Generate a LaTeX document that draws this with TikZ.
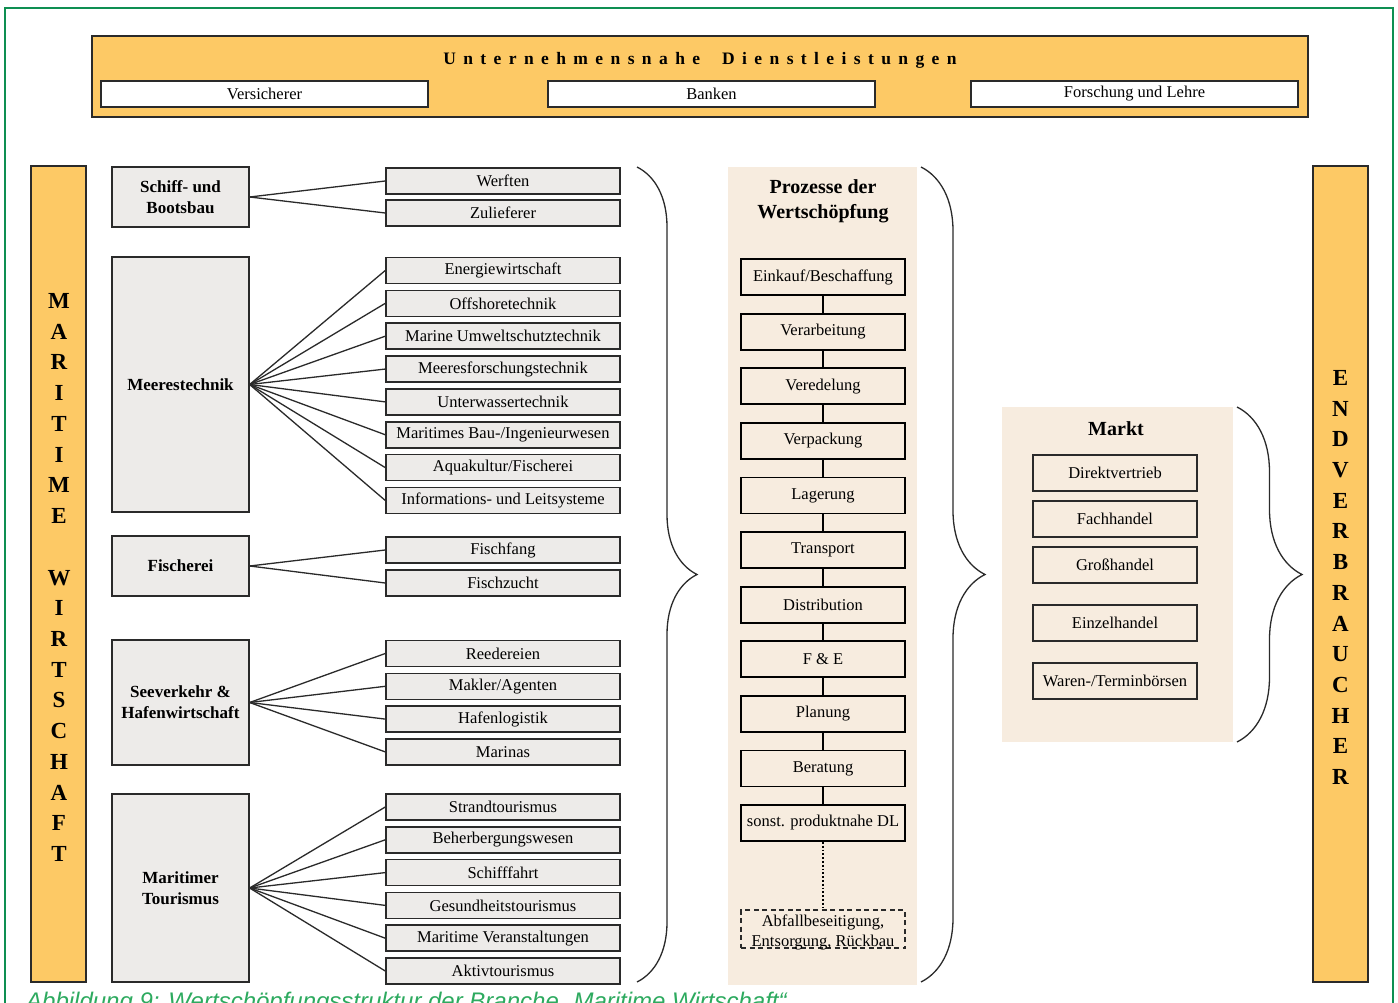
\documentclass[tikz,border=0pt]{standalone}
\usepackage{fontspec}
\setmainfont{Liberation Serif}
\newfontfamily\capfont{Liberation Sans}
\usetikzlibrary{decorations.pathreplacing}
\definecolor{orangefill}{HTML}{FDC965}
\definecolor{beige}{HTML}{F7ECDF}
\definecolor{grayfill}{HTML}{EDEBE9}
\definecolor{framegreen}{HTML}{0E8F52}
\definecolor{capgreen}{HTML}{2DAA5F}
\definecolor{edge}{HTML}{2A2A2A}
\newcommand{\ls}{\hspace{7.4pt}}
\begin{document}
\begin{tikzpicture}[x=1pt,y=-1pt,
  txt/.style={font=\fontsize{16.5}{20}\selectfont},
  orangebar/.style={draw=edge,fill=orangefill,line width=1.5pt},
  whitebox/.style={draw=edge,fill=white,line width=1.3pt,minimum width=327pt,minimum height=26pt,inner sep=0pt,txt},
  catbox/.style={draw=edge,fill=grayfill,line width=1.3pt,minimum width=137pt,inner sep=0pt,align=center,font=\bfseries\fontsize{17}{21}\selectfont},
  subbox/.style={draw=edge,fill=grayfill,line width=1.5pt,minimum width=234pt,minimum height=26pt,inner sep=0pt,txt},
  procbox/.style={draw=black,line width=1.8pt,minimum width=164pt,minimum height=36pt,inner sep=0pt,txt},
  mktbox/.style={draw=edge,line width=1.5pt,minimum width=164pt,minimum height=36pt,inner sep=0pt,txt},
  link/.style={line width=1.3pt,draw=edge},
  bracestyle/.style={decorate,decoration={brace,amplitude=#1},line width=1.3pt,draw=edge},
  bigletters/.style={inner sep=0pt,align=center,font=\bfseries\fontsize{23}{30.72}\selectfont},
  title/.style={inner sep=0pt,align=center,font=\bfseries\fontsize{20}{25}\selectfont}
]
\useasboundingbox (0,0) rectangle (1398,1003);
\clip (0,0) rectangle (1398,1003);
\fill[white] (0,0) rectangle (1398,1003);

% frame
\draw[framegreen,line width=2pt] (5,1010) -- (5,8) -- (1393,8) -- (1393,1010);

% top banner
\draw[orangebar] (92,36) rectangle (1308,117);
\node[inner sep=0pt,font=\bfseries\fontsize{17.5}{20}\selectfont] (bantitle) at (700,60)
  {U\ls n\ls t\ls e\ls r\ls n\ls e\ls h\ls m\ls e\ls n\ls s\ls n\ls a\ls h\ls e\hspace{22pt}D\ls i\ls e\ls n\ls s\ls t\ls l\ls e\ls i\ls s\ls t\ls u\ls n\ls g\ls e\ls n};
\node[whitebox] (vers) at (264.5,94) {Versicherer};
\node[whitebox] (bank) at (711.5,94) {Banken};
\node[whitebox] (fors) at (1134.5,94) {Forschung und Lehre};

% side bars
\draw[orangebar] (31,166) rectangle (86,982);
\node[bigletters] (maritime) at (59,577.5) {M\\A\\R\\I\\T\\I\\M\\E\\[30.72pt]W\\I\\R\\T\\S\\C\\H\\A\\F\\T};
\draw[orangebar] (1313,166) rectangle (1368,982);
\node[bigletters] (endv) at (1340.5,577.5) {E\\N\\D\\V\\E\\R\\B\\R\\A\\U\\C\\H\\E\\R};

% categories
\node[catbox,minimum height=60pt] (schiff) at (180.5,197) {Schiff- und\\Bootsbau};
\node[catbox,minimum height=255pt] (meer) at (180.5,384.5) {Meerestechnik};
\node[catbox,minimum height=60pt] (fisch) at (180.5,566) {Fischerei};
\node[catbox,minimum height=125pt] (see) at (180.5,702.5) {Seeverkehr \&\\Hafenwirtschaft};
\node[catbox,minimum height=188pt] (tour) at (180.5,888) {Maritimer\\Tourismus};

% sub boxes
\node[subbox] (s1) at (503,181) {Werften};
\node[subbox] (s2) at (503,213) {Zulieferer};
\foreach \n/\t [count=\i from 0] in {m1/Energiewirtschaft,m2/Offshoretechnik,m3/Marine Umweltschutztechnik,m4/Meeresforschungstechnik,m5/Unterwassertechnik,m6/{Maritimes Bau-/Ingenieurwesen},m7/{Aquakultur/Fischerei},m8/Informations- und Leitsysteme}
  \node[subbox] (\n) at (503,270.5+32.85*\i) {\t};
\node[subbox] (f1) at (503,550) {Fischfang};
\node[subbox] (f2) at (503,583) {Fischzucht};
\foreach \n/\t [count=\i from 0] in {h1/Reedereien,h2/{Makler/Agenten},h3/Hafenlogistik,h4/Marinas}
  \node[subbox] (\n) at (503,653.5+32.8*\i) {\t};
\foreach \n/\t [count=\i from 0] in {t1/Strandtourismus,t2/Beherbergungswesen,t3/Schifffahrt,t4/Gesundheitstourismus,t5/Maritime Veranstaltungen,t6/Aktivtourismus}
  \node[subbox] (\n) at (503,807+32.8*\i) {\t};

% links
\foreach \s in {s1,s2} \draw[link] (schiff.east) -- (\s.west);
\foreach \s in {m1,m2,m3,m4,m5,m6,m7,m8} \draw[link] (meer.east) -- (\s.west);
\foreach \s in {f1,f2} \draw[link] (fisch.east) -- (\s.west);
\foreach \s in {h1,h2,h3,h4} \draw[link] (see.east) -- (\s.west);
\foreach \s in {t1,t2,t3,t4,t5,t6} \draw[link] (tour.east) -- (\s.west);

% brace 1
\coordinate (b1top) at (637,167);
\coordinate (b1bot) at (637,982);
\draw[bracestyle=60pt] (b1top) -- (b1bot);

% process column
\fill[beige] (728,167) rectangle (917,985);
\node[title] (ptitle) at (823,201.5) {Prozesse der\\Wertschöpfung};
\foreach \n/\t [count=\i from 0] in {p1/{Einkauf/Beschaffung},p2/Verarbeitung,p3/Veredelung,p4/Verpackung,p5/Lagerung,p6/Transport,p7/Distribution,p8/F \& E,p9/Planung,p10/Beratung,p11/sonst. produktnahe DL}
  \node[procbox] (\n) at (823,277+54.6*\i) {\t};
\foreach \a/\b in {p1/p2,p2/p3,p3/p4,p4/p5,p5/p6,p6/p7,p7/p8,p8/p9,p9/p10,p10/p11}
  \draw[line width=1.8pt] (\a.south) -- (\b.north);
\node[procbox,draw=edge,line width=1.6pt,dash pattern=on 5pt off 3.5pt,minimum height=38pt] (abfall) at (823,929) {};
\node[inner sep=0pt,align=center,font=\fontsize{16.5}{20}\selectfont] (abfalltext) at (823,932) {Abfallbeseitigung,\\Entsorgung, Rückbau};
\draw[line width=1.8pt,dotted] (p11.south) -- (abfall.north);

% brace 2
\coordinate (b2top) at (921,167);
\coordinate (b2bot) at (921,982);
\draw[bracestyle=64pt] (b2top) -- (b2bot);

% market
\fill[beige] (1002,407) rectangle (1233,742);
\node[title] (mtitle) at (1116,429) {Markt};
\node[mktbox] (k1) at (1115,473) {Direktvertrieb};
\node[mktbox] (k2) at (1115,519) {Fachhandel};
\node[mktbox] (k3) at (1115,565) {Großhandel};
\node[mktbox] (k4) at (1115,623) {Einzelhandel};
\node[mktbox] (k5) at (1115,681) {Waren-/Terminbörsen};

% brace 3
\coordinate (b3top) at (1237,407);
\coordinate (b3bot) at (1237,742);
\draw[bracestyle=65pt] (b3top) -- (b3bot);

% caption
\node[anchor=base west,inner sep=0pt,text=capgreen,font=\capfont\itshape\fontsize{24}{28}\selectfont] (caption) at (26,1009.5)
  {Abbildung 9: Wertschöpfungsstruktur der Branche „Maritime Wirtschaft“};
\end{tikzpicture}
\end{document}
